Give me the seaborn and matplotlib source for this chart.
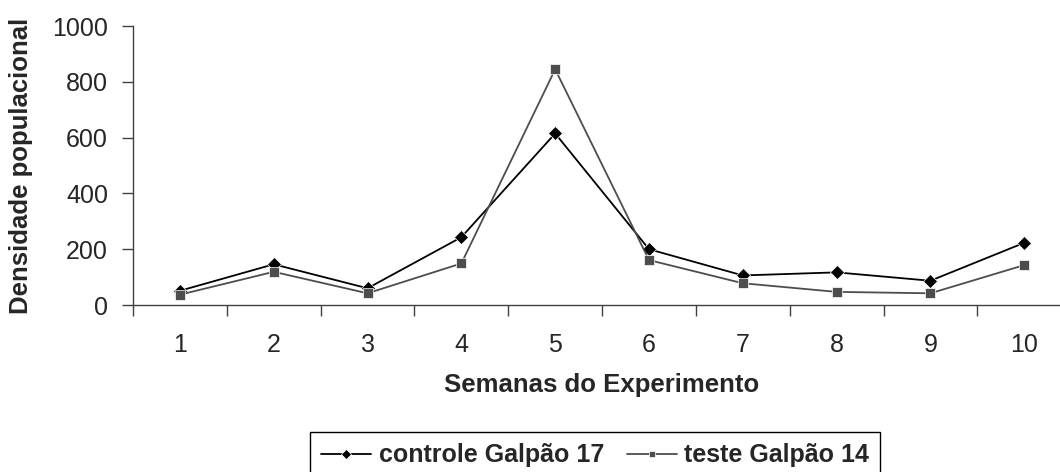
import pandas as pd
import matplotlib.pyplot as plt
import seaborn as sns

# data
semanas = [1, 2, 3, 4, 5, 6, 7, 8, 9, 10]
controle = [51, 146, 60, 243, 615, 200, 106, 117, 87, 223]
teste = [37, 119, 42, 149, 845, 161, 78, 47, 42, 143]
series_names = ['controle Galpão 17', 'teste Galpão 14']

df = pd.concat([
    pd.DataFrame({'Semana': semanas, 'Densidade': controle, 'Serie': series_names[0]}),
    pd.DataFrame({'Semana': semanas, 'Densidade': teste, 'Serie': series_names[1]}),
])

sns.set_style('white')
plt.rcParams['font.family'] = ['Liberation Sans', 'DejaVu Sans']

fig = plt.figure(figsize=(10.6, 4.72), dpi=100)
ax = fig.add_axes([0.1255, 0.3538, 0.885, 0.591])

sns.lineplot(data=df, x='Semana', y='Densidade', hue='Serie', style='Serie',
             palette={series_names[0]: 'black', series_names[1]: '#4d4d4d'},
             markers={series_names[0]: 'D', series_names[1]: 's'},
             dashes=False, markersize=6.5, linewidth=1.3, markeredgewidth=0.5,
             ax=ax, legend=False)
ax.lines[0].set_markersize(7)

ax.set_xlim(0.5, 10.5)
ax.set_ylim(0, 1000)
ax.set_yticks([0, 200, 400, 600, 800, 1000])
ax.set_xticks(semanas)
ax.set_xticks([x + 0.5 for x in range(0, 11)], minor=True)
ax.tick_params(axis='x', which='major', length=0, pad=20, labelsize=18)
ax.tick_params(axis='x', which='minor', length=8, width=1, color='#404040', direction='out', bottom=True)
ax.tick_params(axis='y', length=8, width=1, color='#404040', direction='out', left=True, labelsize=18, pad=10)

sns.despine(ax=ax)
for s in ['left', 'bottom']:
    ax.spines[s].set_color('#404040')
    ax.spines[s].set_linewidth(1)

ax.set_xlabel('Semanas do Experimento', fontsize=18.5, fontweight='bold', labelpad=12)
ax.set_ylabel('Densidade populacional', fontsize=18.5, fontweight='bold', labelpad=14)

# legend box runs off the bottom edge, like the reference
leg = fig.legend(handles=ax.lines[:2], labels=series_names, loc='upper left',
                 bbox_to_anchor=(310 / 1060, 1 - 432 / 472), ncol=2, frameon=True,
                 fancybox=False, edgecolor='black', framealpha=1,
                 prop={'weight': 'bold', 'size': 18}, handlelength=2.0,
                 handletextpad=0.3, columnspacing=0.9, borderpad=0.45,
                 borderaxespad=0)
leg.get_frame().set_linewidth(1)
for h in leg.legend_handles:
    h.set_markersize(5)

fig.savefig('out.png', dpi=100)
